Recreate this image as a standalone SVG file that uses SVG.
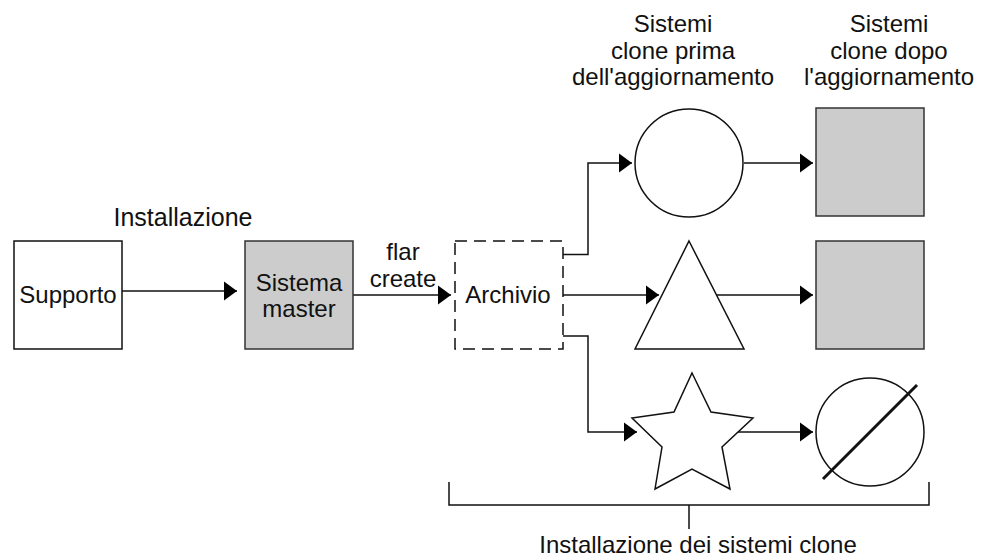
<svg xmlns="http://www.w3.org/2000/svg" width="985" height="557" viewBox="0 0 985 557">
<style>
text{font-family:"Liberation Sans",Arial,sans-serif;font-size:24px;fill:#111;text-anchor:middle}
.s{fill:#fff;stroke:#111;stroke-width:1.5}
.g{fill:#ccc;stroke:#333;stroke-width:1.5}
.c{fill:none;stroke:#111;stroke-width:1.5}
</style>
<defs><marker id="a" markerUnits="userSpaceOnUse" markerWidth="13" markerHeight="20" refX="13" refY="10" orient="auto"><path d="M0 0.5L13 10L0 19.5Z" fill="#000"/></marker></defs>
<rect width="985" height="557" fill="#fff"/>
<g id="connectors">
<path class="c" d="M122 291H237" marker-end="url(#a)"/>
<path class="c" d="M353 295H451" marker-end="url(#a)"/>
<path class="c" d="M563 254.500H588V163H632" marker-end="url(#a)"/>
<path class="c" d="M563 295H659" marker-end="url(#a)"/>
<path class="c" d="M563 336H588V432H637" marker-end="url(#a)"/>
<path class="c" d="M744 163H813" marker-end="url(#a)"/>
<path class="c" d="M717 295H813" marker-end="url(#a)"/>
<path class="c" d="M738 432H813" marker-end="url(#a)"/>
</g>
<g id="supporto"><rect class="s" x="14" y="241" width="108" height="108"/><text x="68" y="303">Supporto</text></g>
<g id="master"><rect class="g" x="245" y="241" width="108" height="108"/><text x="299" y="291">Sistema</text><text x="299" y="317">master</text></g>
<g id="archivio"><rect x="455" y="241" width="108" height="108" fill="none" stroke="#111" stroke-width="1.5" stroke-dasharray="12 7"/><text x="508" y="303">Archivio</text></g>
<g id="clone-circle"><circle class="s" cx="689" cy="163" r="54"/></g>
<g id="clone-triangle"><path class="s" d="M689 241L744 349H635Z"/></g>
<g id="clone-star"><path class="s" d="M692 373L711 412L753 418L722 447L730 489L692 469L655 489L662 447L632 418L674 412Z"/></g>
<g id="after-1"><rect class="g" x="816" y="108" width="108" height="108"/></g>
<g id="after-2"><rect class="g" x="816" y="241" width="108" height="108"/></g>
<g id="after-3"><circle class="s" cx="870" cy="432" r="54"/><path d="M823 479L917 385" fill="none" stroke="#111" stroke-width="3"/></g>
<g id="labels">
<text x="183" y="226" style="font-size:25px">Installazione</text>
<text x="403" y="260">flar</text><text x="403" y="287">create</text>
<text x="673" y="32">Sistemi</text><text x="673" y="59">clone prima</text><text x="673" y="85">dell'aggiornamento</text>
<text x="889" y="32">Sistemi</text><text x="889" y="59">clone dopo</text><text x="889" y="85">l'aggiornamento</text>
<text x="698" y="553">Installazione dei sistemi clone</text>
</g>
<path id="bracket" class="c" d="M449 482V505H929V482M689 505V529"/>
</svg>
